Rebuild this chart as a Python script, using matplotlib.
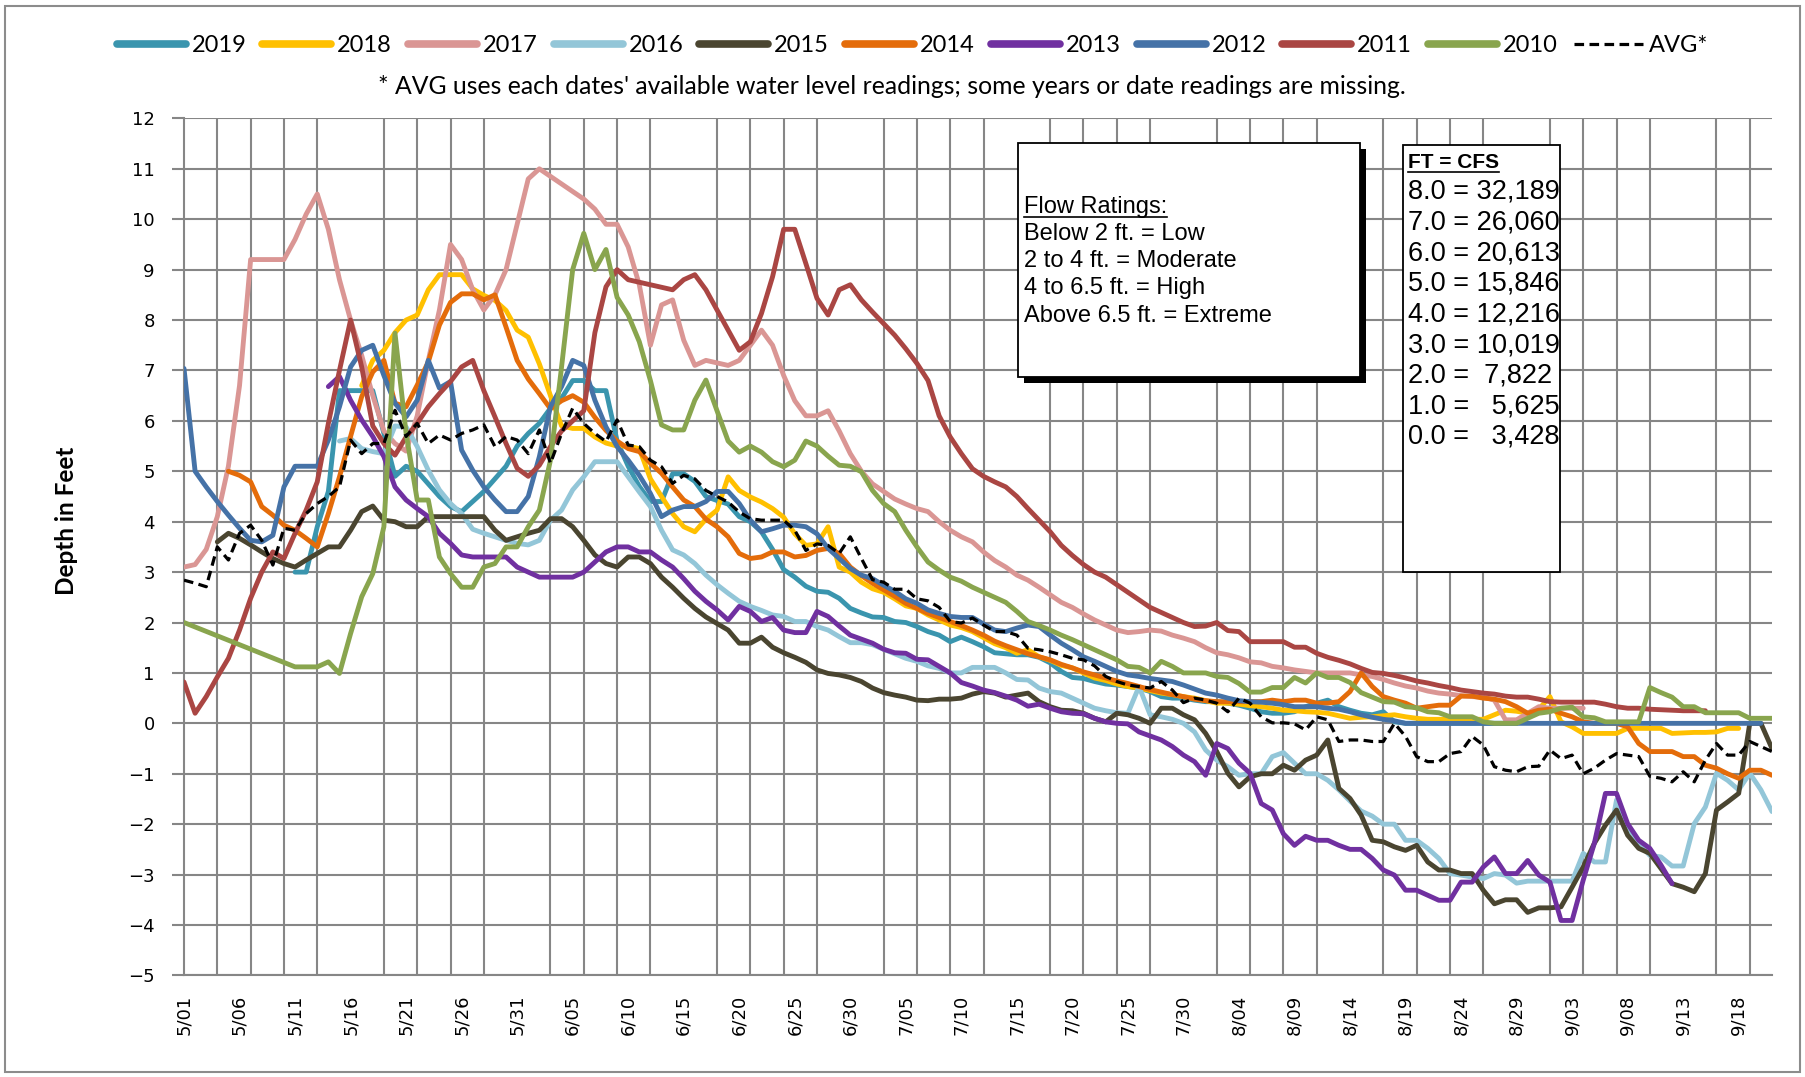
import numpy as np
import pandas as pd
import matplotlib
matplotlib.use("Agg")
import matplotlib.pyplot as plt
from matplotlib.patches import Rectangle
from matplotlib.lines import Line2D

N = None  # missing reading

# one value per day, 5/01 .. 9/21
dates = pd.date_range("2019-05-01", periods=144, freq="D")
date_labels = [f"{d.month}/{d.day:02d}" for d in dates]

y2019 = [N] * 10 + [
    3.0, 3.0, 3.9, 4.6, 6.6, 6.6, 6.6, 6.6, 5.75, 4.9,
    5.1, 5.0, 4.75, 4.5, 4.3, 4.2, 4.4, 4.6, 4.85, 5.1,
    5.5, 5.75, 5.95, 6.25, 6.45, 6.8, 6.8, 6.6, 6.6, 5.6,
    5.1, 4.7, 4.4, 4.4, 4.95, 4.95, 4.8, 4.5, 4.42, 4.35,
    4.1, 4.0, 3.8, 3.45, 3.05, 2.9, 2.72, 2.62, 2.6, 2.48,
    2.28, 2.19, 2.11, 2.1, 2.02, 2.0, 1.92, 1.82, 1.75, 1.62,
    1.71, 1.62, 1.52, 1.4, 1.38, 1.36, 1.36, 1.31, 1.2, 1.03,
    0.91, 0.89, 0.83, 0.78, 0.76, 0.73, 0.7, 0.63, 0.53, 0.5,
    0.5, 0.46, 0.43, 0.43, 0.4, 0.36, 0.3, 0.23, 0.2, 0.2,
    0.23, 0.33, 0.4, 0.46, 0.33, 0.26, 0.2, 0.17, 0.23, 0.03,
    0.0, 0.0, 0.0, 0.0, 0.0, 0.0, 0.0, 0.0, 0.0, 0.0, 0.0,
]

y2018 = [N] * 16 + [
    6.7, 7.2, 7.4, 7.75,
    8.0, 8.1, 8.6, 8.9, 8.9, 8.9, 8.62, 8.49, 8.39, 8.19,
    7.8, 7.66, 7.13, 6.5, 5.9, 5.85, 5.85, 5.68, 5.56, 5.5,
    5.5, 5.45, 4.85, 4.5, 4.16, 3.9, 3.8, 4.05, 4.23, 4.89,
    4.62, 4.49, 4.39, 4.26, 4.09, 3.76, 3.53, 3.56, 3.9, 3.1,
    3.0, 2.8, 2.67, 2.6, 2.47, 2.33, 2.28, 2.15, 2.05, 1.95,
    1.9, 1.82, 1.7, 1.58, 1.5, 1.39, 1.46, 1.32, 1.25, 1.15,
    1.1, 1.0, 0.9, 0.85, 0.78, 0.73, 0.7, 0.65, 0.6, 0.57,
    0.53, 0.5, 0.45, 0.4, 0.4, 0.38, 0.35, 0.33, 0.3, 0.26,
    0.25, 0.23, 0.22, 0.2, 0.15, 0.1, 0.12, 0.13, 0.15, 0.17,
    0.13, 0.1, 0.08, 0.08, 0.08, 0.08, 0.08, 0.08, 0.17, 0.26,
    0.24, 0.2, 0.28, 0.53, 0.03, -0.07, -0.2, -0.2, -0.2, -0.2,
    -0.1, -0.1, -0.1, -0.1, -0.2, -0.19, -0.18, -0.18, -0.17, -0.1, -0.1,
]

y2017 = [
    3.1, 3.15, 3.45, 4.1, 5.1, 6.7, 9.2, 9.2, 9.2, 9.2,
    9.6, 10.1, 10.5, 9.8, 8.8, 8.0, 7.3, 6.5, 5.8, 5.55,
    5.4, 6.1, 7.2, 8.2, 9.5, 9.2, 8.6, 8.2, 8.5, 9.0,
    9.9, 10.8, 11.0, 10.85, 10.7, 10.55, 10.4, 10.2, 9.9, 9.9,
    9.45, 8.7, 7.5, 8.3, 8.4, 7.6, 7.1, 7.2, 7.15, 7.1,
    7.2, 7.5, 7.8, 7.5, 6.9, 6.4, 6.1, 6.1, 6.2, 5.8,
    5.35, 5.0, 4.75, 4.6, 4.45, 4.35, 4.26, 4.2, 4.0, 3.83,
    3.7, 3.6, 3.4, 3.23, 3.1, 2.94, 2.84, 2.7, 2.55, 2.4,
    2.3, 2.17, 2.05, 1.95, 1.85, 1.8, 1.82, 1.85, 1.83, 1.75,
    1.69, 1.62, 1.5, 1.4, 1.36, 1.3, 1.22, 1.2, 1.13, 1.1,
    1.06, 1.03, 1.0, 1.0, 1.0, 1.0, 0.96, 0.93, 0.87, 0.8,
    0.74, 0.7, 0.64, 0.6, 0.58, 0.55, 0.53, 0.52, 0.46, 0.07,
    0.07, 0.2, 0.33, 0.3, 0.3, 0.3, 0.3,
]

y2016 = [N] * 14 + [
    5.6, 5.65, 5.45, 5.39, 5.35, 5.9,
    5.88, 5.49, 5.02, 4.63, 4.36, 4.16, 3.85, 3.77, 3.7, 3.63,
    3.57, 3.54, 3.63, 4.03, 4.23, 4.63, 4.89, 5.19, 5.19, 5.19,
    4.89, 4.59, 4.3, 3.83, 3.44, 3.34, 3.17, 2.94, 2.75, 2.58,
    2.42, 2.32, 2.24, 2.15, 2.12, 2.02, 2.02, 1.92, 1.85, 1.72,
    1.6, 1.6, 1.56, 1.47, 1.38, 1.29, 1.23, 1.14, 1.09, 1.0,
    1.0, 1.11, 1.11, 1.11, 1.0, 0.87, 0.86, 0.7, 0.63, 0.6,
    0.5, 0.4, 0.3, 0.25, 0.21, 0.2, 0.73, 0.17, 0.13, 0.08,
    0.0, -0.17, -0.53, -0.73, -0.86, -1.03, -1.0, -1.0, -0.66, -0.58,
    -0.79, -1.0, -1.0, -1.13, -1.32, -1.54, -1.74, -1.84, -2.0, -2.0,
    -2.32, -2.32, -2.48, -2.68, -2.98, -3.01, -3.05, -3.08, -2.98, -3.01,
    -3.17, -3.13, -3.13, -3.13, -3.13, -3.13, -2.58, -2.75, -2.75, -1.52,
    -2.09, -2.38, -2.62, -2.65, -2.83, -2.83, -1.99, -1.66, -0.99, -1.13,
    -1.32, -0.99, -1.32, -1.75,
]

y2015 = [N] * 3 + [
    3.6, 3.77, 3.67, 3.54, 3.4, 3.27, 3.17,
    3.1, 3.24, 3.37, 3.5, 3.5, 3.83, 4.2, 4.31, 4.03, 4.0,
    3.9, 3.9, 4.1, 4.1, 4.1, 4.1, 4.1, 4.1, 3.83, 3.63,
    3.7, 3.77, 3.83, 4.06, 4.06, 3.9, 3.63, 3.34, 3.17, 3.1,
    3.3, 3.3, 3.17, 2.9, 2.7, 2.48, 2.28, 2.11, 1.98, 1.85,
    1.59, 1.59, 1.71, 1.51, 1.4, 1.31, 1.21, 1.06, 0.99, 0.96,
    0.91, 0.83, 0.7, 0.61, 0.56, 0.52, 0.46, 0.45, 0.48, 0.48,
    0.5, 0.58, 0.63, 0.6, 0.52, 0.56, 0.6, 0.43, 0.33, 0.26,
    0.25, 0.2, 0.1, 0.03, 0.2, 0.17, 0.1, 0.0, 0.3, 0.3,
    0.17, 0.07, -0.2, -0.56, -0.99, -1.26, -1.06, -1.0, -1.0, -0.83,
    -0.93, -0.73, -0.63, -0.33, -1.29, -1.49, -1.82, -2.32, -2.35, -2.45,
    -2.52, -2.42, -2.75, -2.91, -2.91, -2.98, -2.98, -3.31, -3.58, -3.5,
    -3.5, -3.75, -3.66, -3.66, -3.64, -3.25, -2.85, -2.38, -2.02, -1.72,
    -2.22, -2.48, -2.58, -2.88, -3.18, -3.25, -3.34, -2.98, -1.72, -1.56,
    -1.39, 0.0, 0.0, -0.5,
]

y2014 = [N] * 4 + [
    5.0, 4.92, 4.79, 4.3, 4.13, 3.93,
    3.83, 3.67, 3.5, 4.16, 4.89, 5.69, 6.48, 6.97, 7.2, 6.35,
    6.28, 6.71, 7.17, 7.9, 8.35, 8.52, 8.52, 8.4, 8.5, 7.86,
    7.2, 6.83, 6.54, 6.24, 6.4, 6.5, 6.37, 6.07, 5.81, 5.6,
    5.45, 5.39, 5.16, 4.96, 4.69, 4.43, 4.3, 4.05, 3.9, 3.7,
    3.37, 3.27, 3.3, 3.4, 3.4, 3.3, 3.33, 3.43, 3.47, 3.37,
    3.1, 2.93, 2.78, 2.65, 2.52, 2.38, 2.28, 2.18, 2.1, 2.02,
    1.94, 1.85, 1.75, 1.63, 1.54, 1.46, 1.38, 1.32, 1.26, 1.17,
    1.1, 1.02, 0.96, 0.9, 0.84, 0.79, 0.73, 0.67, 0.62, 0.57,
    0.53, 0.48, 0.45, 0.43, 0.43, 0.43, 0.43, 0.43, 0.46, 0.43,
    0.46, 0.46, 0.4, 0.4, 0.43, 0.63, 1.0, 0.73, 0.53, 0.46,
    0.4, 0.3, 0.33, 0.36, 0.36, 0.54, 0.54, 0.5, 0.48, 0.43,
    0.33, 0.2, 0.26, 0.28, 0.2, 0.13, 0.03, 0.0, 0.0, 0.0,
    -0.07, -0.4, -0.56, -0.56, -0.56, -0.66, -0.66, -0.83, -0.89, -1.0,
    -1.09, -0.93, -0.93, -1.03,
]

y2013 = [N] * 13 + [
    6.68, 6.88, 6.41, 6.02, 5.69, 5.29, 4.69,
    4.43, 4.26, 4.1, 3.77, 3.57, 3.34, 3.3, 3.3, 3.3, 3.3,
    3.1, 3.0, 2.9, 2.9, 2.9, 2.9, 3.0, 3.2, 3.4, 3.5,
    3.5, 3.4, 3.4, 3.24, 3.1, 2.87, 2.62, 2.42, 2.25, 2.05,
    2.32, 2.22, 2.02, 2.1, 1.85, 1.8, 1.8, 2.22, 2.12, 1.93,
    1.75, 1.67, 1.59, 1.47, 1.4, 1.39, 1.27, 1.26, 1.13, 1.0,
    0.81, 0.74, 0.66, 0.61, 0.54, 0.46, 0.34, 0.38, 0.3, 0.23,
    0.2, 0.19, 0.1, 0.03, 0.0, -0.01, -0.17, -0.25, -0.33, -0.46,
    -0.63, -0.76, -1.03, -0.4, -0.5, -0.79, -0.99, -1.59, -1.72, -2.19,
    -2.42, -2.24, -2.32, -2.32, -2.42, -2.5, -2.5, -2.68, -2.91, -3.01,
    -3.31, -3.31, -3.41, -3.51, -3.51, -3.15, -3.15, -2.85, -2.65, -2.98,
    -2.98, -2.72, -3.01, -3.15, -3.91, -3.91, -3.11, -2.38, -1.39, -1.39,
    -1.99, -2.32, -2.48, -2.81, -3.18,
]

y2012 = [
    7.04, 5.0, 4.69, 4.4, 4.13, 3.87, 3.63, 3.6, 3.73, 4.69,
    5.1, 5.1, 5.1, 5.62, 6.28, 7.07, 7.4, 7.5, 6.9, 6.35,
    6.08, 6.41, 7.2, 6.65, 6.78, 5.42, 5.02, 4.69, 4.43, 4.2,
    4.2, 4.5, 5.29, 6.28, 6.68, 7.2, 7.1, 6.41, 5.88, 5.49,
    5.22, 4.92, 4.56, 4.1, 4.23, 4.3, 4.3, 4.4, 4.6, 4.6,
    4.36, 4.03, 3.8, 3.86, 3.93, 3.93, 3.9, 3.76, 3.47, 3.27,
    3.07, 2.94, 2.87, 2.74, 2.62, 2.47, 2.38, 2.25, 2.18, 2.12,
    2.1, 2.1, 1.97, 1.85, 1.82, 1.89, 1.95, 1.92, 1.75, 1.59,
    1.46, 1.32, 1.23, 1.13, 1.03, 0.96, 0.93, 0.89, 0.86, 0.83,
    0.76, 0.68, 0.6, 0.56, 0.5, 0.45, 0.43, 0.42, 0.4, 0.37,
    0.33, 0.33, 0.33, 0.3, 0.28, 0.23, 0.17, 0.12, 0.08, 0.05,
    0.0, 0.0, 0.0, 0.0, 0.0, 0.0, 0.0, 0.0, 0.0, 0.0,
    0.0, 0.0, 0.0, 0.0, 0.0, 0.0, 0.0, 0.0, 0.0, 0.0,
    0.0, 0.0, 0.0, 0.0, 0.0, 0.0, 0.0, 0.0, 0.0, 0.0,
    0.0, 0.0, 0.0,
]

y2011 = [
    0.82, 0.2, 0.53, 0.92, 1.29, 1.85, 2.48, 3.0, 3.4, 3.27,
    3.77, 4.23, 4.79, 5.95, 7.0, 8.0, 7.07, 5.9, 5.55, 5.32,
    5.68, 5.95, 6.28, 6.54, 6.78, 7.07, 7.2, 6.6, 6.08, 5.55,
    5.06, 4.9, 5.12, 5.49, 5.8, 6.0, 6.2, 7.75, 8.66, 9.0,
    8.8, 8.75, 8.7, 8.65, 8.6, 8.8, 8.9, 8.6, 8.2, 7.8,
    7.4, 7.57, 8.13, 8.86, 9.8, 9.8, 9.12, 8.43, 8.1, 8.6,
    8.7, 8.4, 8.16, 7.93, 7.7, 7.43, 7.14, 6.8, 6.1, 5.68,
    5.35, 5.05, 4.9, 4.79, 4.69, 4.5, 4.26, 4.03, 3.8, 3.53,
    3.33, 3.15, 3.0, 2.9, 2.75, 2.6, 2.45, 2.3, 2.2, 2.1,
    2.0, 1.92, 1.93, 2.0, 1.84, 1.82, 1.62, 1.62, 1.62, 1.62,
    1.51, 1.51, 1.39, 1.31, 1.25, 1.18, 1.09, 1.01, 0.99, 0.95,
    0.9, 0.84, 0.8, 0.75, 0.71, 0.66, 0.63, 0.6, 0.58, 0.54,
    0.52, 0.52, 0.48, 0.43, 0.42, 0.42, 0.42, 0.42, 0.38, 0.33,
    0.3, 0.3, 0.28, 0.27, 0.26, 0.25, 0.25, 0.25,
]

y2010 = [2.0] + [N] * 9 + [
    1.12, 1.12, 1.12, 1.22, 0.99, 1.78, 2.51, 2.97, 3.9, 7.74,
    5.75, 4.43, 4.43, 3.3, 2.97, 2.7, 2.7, 3.1, 3.17, 3.5,
    3.5, 3.9, 4.23, 5.22, 7.07, 9.0, 9.72, 9.0, 9.4, 8.45,
    8.1, 7.57, 6.8, 5.92, 5.82, 5.82, 6.41, 6.81, 6.2, 5.6,
    5.38, 5.5, 5.38, 5.19, 5.09, 5.22, 5.6, 5.5, 5.3, 5.12,
    5.1, 4.99, 4.62, 4.36, 4.2, 3.83, 3.5, 3.2, 3.04, 2.9,
    2.82, 2.7, 2.6, 2.5, 2.4, 2.22, 2.02, 1.94, 1.85, 1.75,
    1.66, 1.56, 1.46, 1.36, 1.26, 1.13, 1.11, 1.0, 1.23, 1.13,
    1.0, 1.0, 1.0, 0.93, 0.91, 0.79, 0.62, 0.62, 0.71, 0.71,
    0.91, 0.8, 1.0, 0.91, 0.91, 0.81, 0.61, 0.52, 0.43, 0.42,
    0.33, 0.31, 0.23, 0.21, 0.13, 0.13, 0.13, 0.03, 0.0, 0.0,
    0.0, 0.1, 0.2, 0.23, 0.3, 0.32, 0.13, 0.11, 0.03, 0.03,
    0.03, 0.03, 0.71, 0.61, 0.52, 0.33, 0.33, 0.21, 0.21, 0.21,
    0.21, 0.1, 0.1, 0.1,
]

y_avg = [
    2.84, 2.78, 2.71, 3.5, 3.24, 3.77, 3.93, 3.63, 3.14, 3.87,
    3.83, 4.16, 4.36, 4.5, 4.69, 5.62, 5.35, 5.55, 5.55, 6.21,
    5.69, 5.95, 5.55, 5.72, 5.62, 5.75, 5.82, 5.92, 5.49, 5.69,
    5.62, 5.35, 5.82, 5.16, 5.75, 6.25, 5.95, 5.75, 5.59, 6.02,
    5.52, 5.49, 5.22, 5.09, 4.76, 4.92, 4.85, 4.62, 4.5, 4.39,
    4.19, 4.06, 4.03, 4.03, 4.03, 3.83, 3.43, 3.56, 3.53, 3.37,
    3.7, 3.27, 2.85, 2.8, 2.66, 2.66, 2.47, 2.43, 2.3, 2.02,
    1.99, 2.09, 1.95, 1.82, 1.82, 1.75, 1.49, 1.46, 1.42, 1.36,
    1.29, 1.26, 1.14, 0.93, 0.83, 0.76, 0.73, 0.7, 0.83, 0.66,
    0.41, 0.5, 0.46, 0.4, 0.23, 0.5, 0.4, 0.13, 0.01, 0.01,
    -0.01, -0.13, 0.13, 0.07, -0.36, -0.33, -0.33, -0.36, -0.36, 0.0,
    -0.26, -0.66, -0.76, -0.76, -0.6, -0.56, -0.26, -0.43, -0.86, -0.93,
    -0.96, -0.86, -0.85, -0.53, -0.7, -0.63, -1.0, -0.89, -0.73, -0.6,
    -0.63, -0.66, -1.05, -1.09, -1.16, -0.96, -1.16, -0.73, -0.4, -0.63,
    -0.63, -0.36, -0.46, -0.56,
]

names = ["2019", "2018", "2017", "2016", "2015", "2014", "2013", "2012", "2011", "2010", "AVG*"]
series = [y2019, y2018, y2017, y2016, y2015, y2014, y2013, y2012, y2011, y2010, y_avg]
colors = ["#3A95AE", "#FFC000", "#DA9694", "#93C6D8", "#4A4530", "#E46C0A",
          "#7030A0", "#4572A7", "#AA4643", "#89A54E", "black"]

narrow = ["Lato", "DejaVu Sans"]
arial = ["Liberation Sans", "DejaVu Sans"]

W, H = 1805, 1077
fig = plt.figure(figsize=(W / 100, H / 100), dpi=100)
ax = fig.add_axes([184 / W, 1 - 975.4 / H, (1772 - 184) / W, (975.4 - 118.4) / H])

x = np.arange(len(dates))
lines = []
for name, vals, col in zip(names, series, colors):
    v = np.array([np.nan if a is None else a for a in vals] + [np.nan] * (len(x) - len(vals)), dtype=float)
    ok = ~np.isnan(v)  # missing readings are bridged, as in the source chart
    if name == "AVG*":
        ln, = ax.plot(x[ok], v[ok], color=col, lw=2.3, ls=(0, (3, 1.7)), zorder=5)
    else:
        ln, = ax.plot(x[ok], v[ok], color=col, lw=3.5, solid_joinstyle="round",
                      solid_capstyle="round", zorder=3)
    lines.append(ln)

ax.set_xlim(0, len(x) - 1)
ax.set_ylim(-5, 12)
ax.set_yticks(np.arange(-5, 13, 1))
ax.set_xticks(x[::5])
ax.set_xticklabels(date_labels[::5], rotation=90, fontsize=13, family="DejaVu Sans")
ax.set_xticks(x[::3], minor=True)
ax.tick_params(axis="x", which="both", length=0, pad=14)
ax.tick_params(axis="y", length=9, width=1.5, color="#868686", pad=12, labelsize=13)
ax.grid(False)
ax.grid(True, which="minor", axis="x", color="#868686", lw=1.5, zorder=1)
ax.grid(True, which="major", axis="y", color="#868686", lw=1.5, zorder=1)
ax.set_axisbelow(True)
for s in ["top", "right"]:
    ax.spines[s].set_visible(False)
for s in ["left", "bottom"]:
    ax.spines[s].set_color("#868686")
    ax.spines[s].set_linewidth(1.5)

fig.text(67 / W, 1 - 521 / H, "Depth in Feet", rotation=90, ha="center", va="center",
         fontsize=17.5, fontweight="bold", family=narrow)

leg = fig.legend(lines, names, loc="center", bbox_to_anchor=(0.5055, 1 - 46 / H), ncol=11,
                 frameon=False, prop={"family": narrow, "size": 17},
                 handlelength=2.92, handletextpad=0.25, columnspacing=0.68)
for h, name in zip(leg.get_lines(), names):
    h.set_linewidth(2.3 if name == "AVG*" else 5.5)

fig.text(892 / W, 1 - 87 / H,
         "* AVG uses each dates' available water level readings; some years or date readings are missing.",
         ha="center", va="center", fontsize=17.8, family=narrow)

# text boxes
def box(x0, y0, x1, y1, shadow):
    if shadow:
        fig.patches.append(Rectangle((x0 / W + 6 / W, 1 - y1 / H - 6 / H), (x1 - x0) / W, (y1 - y0) / H,
                                     transform=fig.transFigure, facecolor="black", edgecolor="none", zorder=6))
    fig.patches.append(Rectangle((x0 / W, 1 - y1 / H), (x1 - x0) / W, (y1 - y0) / H,
                                 transform=fig.transFigure, facecolor="white", edgecolor="black",
                                 lw=1.3, zorder=7))

box(1018, 143, 1360, 377, True)
box(1403, 145, 1560, 572, False)

renderer = fig.canvas.get_renderer()

def underlined(xp, yp, s, **kw):
    t = fig.text(xp / W, 1 - yp / H, s, ha="left", va="center", zorder=8, **kw)
    bb = t.get_window_extent(renderer).transformed(fig.transFigure.inverted())
    fig.add_artist(Line2D([bb.x0, bb.x1], [bb.y0 + 1 / H, bb.y0 + 1 / H], transform=fig.transFigure,
                          color="black", lw=1.2, zorder=8))

underlined(1024, 207, "Flow Ratings:", fontsize=17, family=arial)
flow_lines = ["Below 2 ft. = Low", "2 to 4 ft. = Moderate", "4 to 6.5 ft. = High", "Above 6.5 ft. = Extreme"]
for i, s in enumerate(flow_lines):
    fig.text(1024 / W, 1 - (234 + 27.2 * i) / H, s, ha="left", va="center", fontsize=17,
             family=arial, zorder=8)

underlined(1408, 163, "FT = CFS", fontsize=15, fontweight="bold", family=arial)
cfs_lines = ["8.0 = 32,189", "7.0 = 26,060", "6.0 = 20,613", "5.0 = 15,846", "4.0 = 12,216",
             "3.0 = 10,019", "2.0 =  7,822", "1.0 =   5,625", "0.0 =   3,428"]
for i, s in enumerate(cfs_lines):
    fig.text(1408 / W, 1 - (192 + 30.6 * i) / H, s, ha="left", va="center", fontsize=19.5,
             family=arial, zorder=8)

# outer chart border
fig.patches.append(Rectangle((5 / W, 5 / H), 1 - 10 / W, 1 - 11 / H, transform=fig.transFigure,
                             fill=False, edgecolor="#8C8C8C", lw=1.5, zorder=0))

fig.savefig("out.png", dpi=100)
